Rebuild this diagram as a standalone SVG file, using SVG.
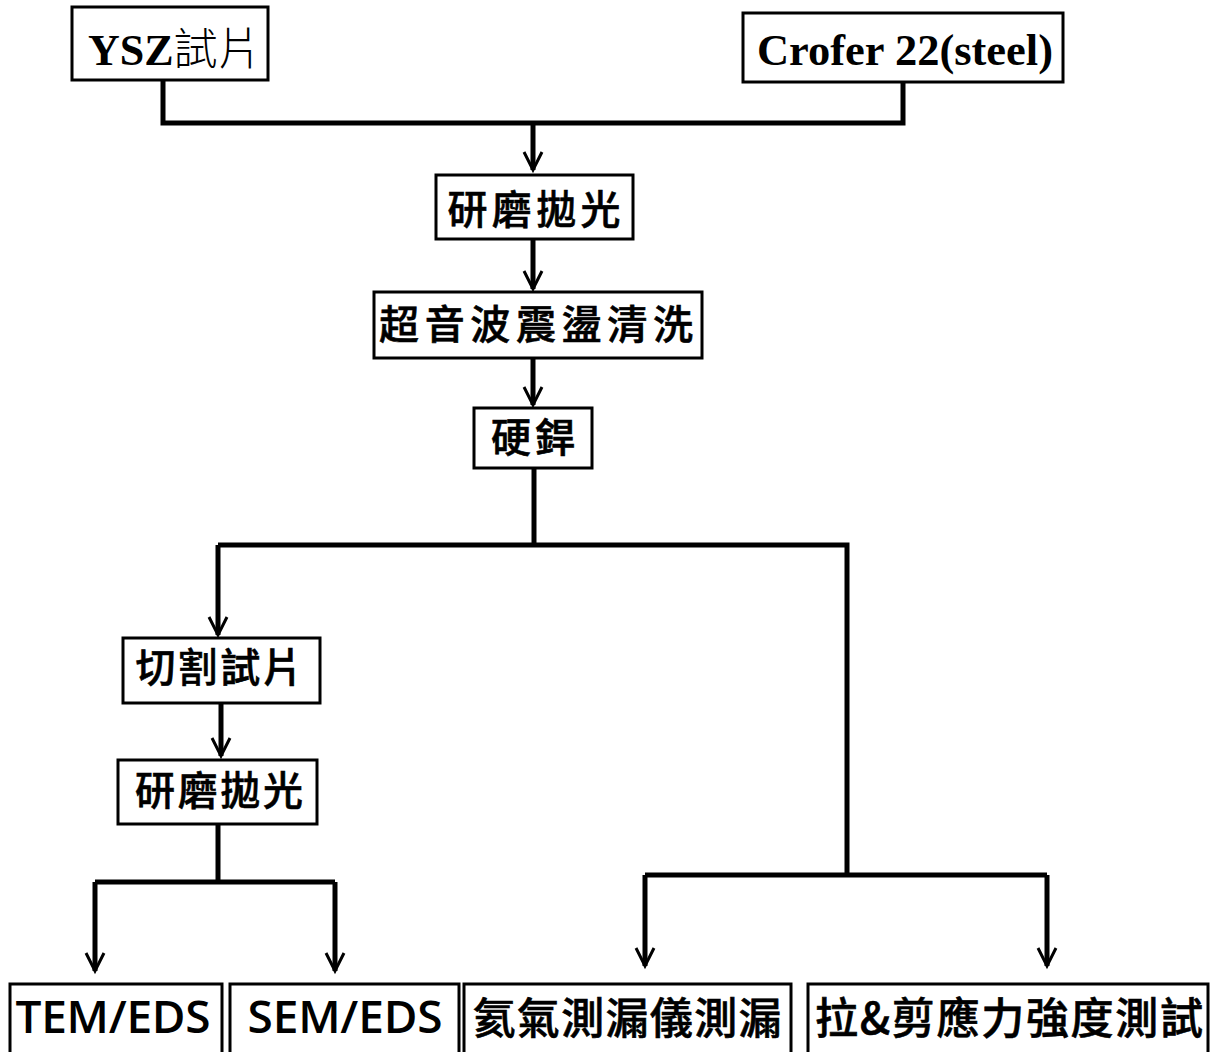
<svg xmlns="http://www.w3.org/2000/svg" width="1225" height="1052" viewBox="0 0 1225 1052">
<style>
.box{fill:#fff;stroke:#000;stroke-width:3}
.cjk{font-family:"Noto Sans CJK TC","Noto Sans CJK SC",sans-serif;font-weight:500;font-size:40px;text-anchor:middle;fill:#000;stroke:#000;stroke-width:0.6}
.bot{font-size:43px}
.lat{font-family:"Open Sans","Noto Sans",sans-serif;font-weight:600;font-size:46px;text-anchor:middle;fill:#000}
.ser{font-family:"Liberation Serif",serif;font-weight:bold;font-size:44px;fill:#000}
.ln{fill:none;stroke:#000;stroke-width:5}
</style>
<defs>
<marker id="arr" markerUnits="userSpaceOnUse" markerWidth="40" markerHeight="40" viewBox="-20 -20 40 40" refX="0" refY="0" orient="auto">
<path d="M-18,-9 L0,0 L-18,9" fill="none" stroke="#000" stroke-width="3"/>
</marker>
</defs>
<g id="connectors">
<path class="ln" d="M163,80 V123 H903 V82"/>
<path class="ln" d="M533,123 V170" marker-end="url(#arr)"/>
<path class="ln" d="M533,239 V289" marker-end="url(#arr)"/>
<path class="ln" d="M533,358 V405" marker-end="url(#arr)"/>
<path class="ln" d="M534,468 V545"/>
<path class="ln" d="M218,545 H847 V875"/>
<path class="ln" d="M218,545 V635" marker-end="url(#arr)"/>
<path class="ln" d="M221,703 V756" marker-end="url(#arr)"/>
<path class="ln" d="M218,824 V882"/>
<path class="ln" d="M95,882 H335"/>
<path class="ln" d="M95,882 V971" marker-end="url(#arr)"/>
<path class="ln" d="M335,882 V971" marker-end="url(#arr)"/>
<path class="ln" d="M645,875 H1047"/>
<path class="ln" d="M645,875 V966" marker-end="url(#arr)"/>
<path class="ln" d="M1047,875 V966" marker-end="url(#arr)"/>
</g>
<g id="ysz">
<rect class="box" x="72" y="7" width="196" height="73"/>
<text x="88" y="65"><tspan class="ser">YSZ</tspan><tspan font-family="'Noto Sans CJK TC',sans-serif" font-size="44px" font-weight="300">試片</tspan></text>
</g>
<g id="crofer">
<rect class="box" x="743" y="13" width="320" height="69"/>
<text class="ser" x="757" y="65" textLength="296" lengthAdjust="spacingAndGlyphs">Crofer 22(steel)</text>
</g>
<g id="polish1">
<rect class="box" x="436" y="175" width="197" height="64"/>
<text class="cjk" x="534" y="224" textLength="173">研磨拋光</text>
</g>
<g id="ultrasonic">
<rect class="box" x="374" y="292" width="328" height="66"/>
<text class="cjk" x="536" y="339" textLength="314">超音波震盪清洗</text>
</g>
<g id="braze">
<rect class="box" x="474" y="408" width="118" height="60"/>
<text class="cjk" x="533" y="452" textLength="84">硬銲</text>
</g>
<g id="cut">
<rect class="box" x="123" y="638" width="197" height="65"/>
<text class="cjk" x="219" y="682" textLength="167">切割試片</text>
</g>
<g id="polish2">
<rect class="box" x="118" y="760" width="199" height="64"/>
<text class="cjk" x="219" y="805" textLength="168">研磨拋光</text>
</g>
<g id="tem">
<rect class="box" x="10" y="984" width="212" height="80"/>
<text class="lat" x="113" y="1033" textLength="195">TEM/EDS</text>
</g>
<g id="sem">
<rect class="box" x="230" y="984" width="229" height="80"/>
<text class="lat" x="345" y="1033" textLength="195">SEM/EDS</text>
</g>
<g id="helium">
<rect class="box" x="464" y="984" width="327" height="80"/>
<text class="cjk bot" x="627" y="1034" textLength="309">氦氣測漏儀測漏</text>
</g>
<g id="tensile">
<rect class="box" x="808" y="984" width="400" height="80"/>
<text class="cjk bot" x="1009" y="1034" textLength="388">拉&amp;剪應力強度測試</text>
</g>
</svg>
